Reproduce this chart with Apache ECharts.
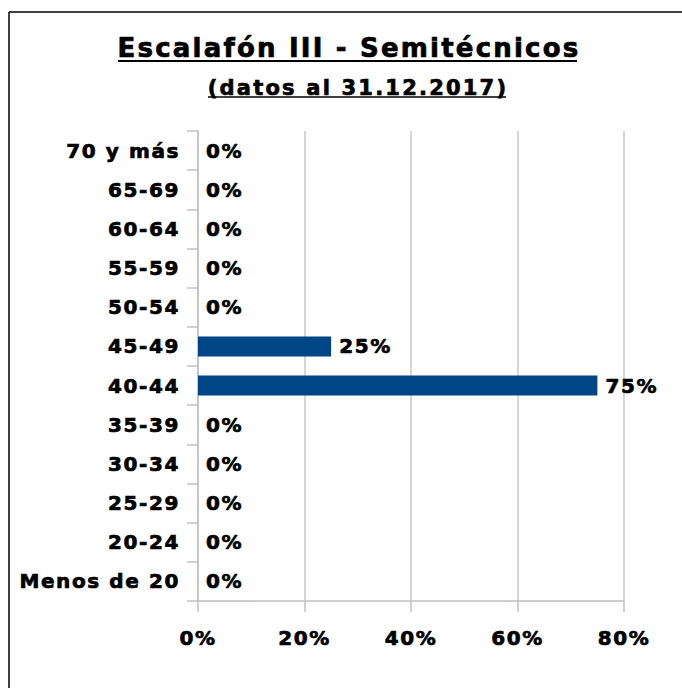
<!DOCTYPE html>
<html lang="es">
<head>
    <meta charset="UTF-8">
    <title>Escalafón III - Semitécnicos</title>
    <style>
        *{
            margin: 0;
            padding: 0;
        }
        html, body{
            height: 100%;
            width: 100%;
            background: #fff;
        }
        #chart{
            width: 682px;
            height: 688px;
        }
        /* the original font (Verdana bold) runs wider than DejaVu, so open it up a bit */
        #chart svg text{
            letter-spacing: 1.6px;
        }
        #chart svg text.big{
            letter-spacing: 2.2px;
        }
    </style>
</head>
<body>
<div id="chart"></div>
<script src="https://cdn.jsdelivr.net/npm/echarts@6/dist/echarts.min.js"></script>
<script>
    var categories = ['Menos de 20', '20-24', '25-29', '30-34', '35-39', '40-44', '45-49', '50-54', '55-59', '60-64', '65-69', '70 y más'];
    var values = [0, 0, 0, 0, 0, 75, 25, 0, 0, 0, 0, 0];
    var xTicks = [0, 20, 40, 60, 80];

    var font = '"DejaVu Sans", Verdana, sans-serif';
    var chart = echarts.init(document.getElementById('chart'), null, {renderer: 'svg'});

    // bold text with a thin outline, a bit heavier like the original
    function boldText(size) {
        return {
            fontFamily: font,
            fontWeight: 'bold',
            fontSize: size,
            color: '#000',
            textBorderColor: '#000',
            textBorderWidth: 0.7
        };
    }

    var option = {
        backgroundColor: '#fff',
        animation: false,
        title: [{
            text: 'Escalafón III - Semitécnicos',
            left: 344,
            top: 30,
            textAlign: 'center',
            textStyle: boldText(26)
        }, {
            text: '(datos al 31.12.2017)',
            left: 353,
            top: 72,
            textAlign: 'center',
            textStyle: boldText(21)
        }],
        graphic: [
            {type: 'line', shape: {x1: 9, y1: 12, x2: 682, y2: 12}, style: {stroke: '#000', lineWidth: 1.5}},
            {type: 'line', shape: {x1: 9, y1: 12, x2: 9, y2: 688}, style: {stroke: '#000', lineWidth: 1.5}},
            {type: 'line', shape: {x1: 118, y1: 61, x2: 577, y2: 61}, style: {stroke: '#000', lineWidth: 2}},
            {type: 'line', shape: {x1: 208, y1: 97, x2: 506, y2: 97}, style: {stroke: '#000', lineWidth: 1.5}}
        ],
        grid: {
            left: 198,
            right: 58,
            top: 131,
            bottom: 87,
            containLabel: false
        },
        xAxis: {
            type: 'value',
            min: xTicks[0],
            max: xTicks[xTicks.length - 1],
            interval: 20,
            axisLine: {show: true, lineStyle: {color: '#c0c0c0', width: 1.5}},
            axisTick: {show: true, length: 11, lineStyle: {color: '#c0c0c0', width: 1.5}},
            splitLine: {show: true, lineStyle: {color: '#c8c8c8', width: 1.5}},
            axisLabel: Object.assign(boldText(20), {
                margin: 27,
                formatter: '{value}%'
            })
        },
        yAxis: {
            type: 'category',
            data: categories,
            axisLine: {show: true, lineStyle: {color: '#c0c0c0', width: 1.5}},
            axisTick: {show: true, length: 11, lineStyle: {color: '#c0c0c0', width: 1.5}},
            axisLabel: Object.assign(boldText(20), {
                margin: 18
            })
        },
        series: [{
            type: 'bar',
            data: values,
            barWidth: 20,
            itemStyle: {color: '#004586'},
            label: Object.assign(boldText(20), {
                show: true,
                position: 'right',
                distance: 8,
                formatter: '{c}%'
            })
        }]
    };

    chart.setOption(option);

    // mark the two heading texts so they get the wider spacing
    var texts = document.querySelectorAll('#chart svg text');
    for (var i = 0; i < texts.length; i++) {
        var t = texts[i].textContent;
        if (t === 'Escalafón III - Semitécnicos' || t === '(datos al 31.12.2017)') {
            texts[i].classList.add('big');
        }
    }
</script>
</body>
</html>
